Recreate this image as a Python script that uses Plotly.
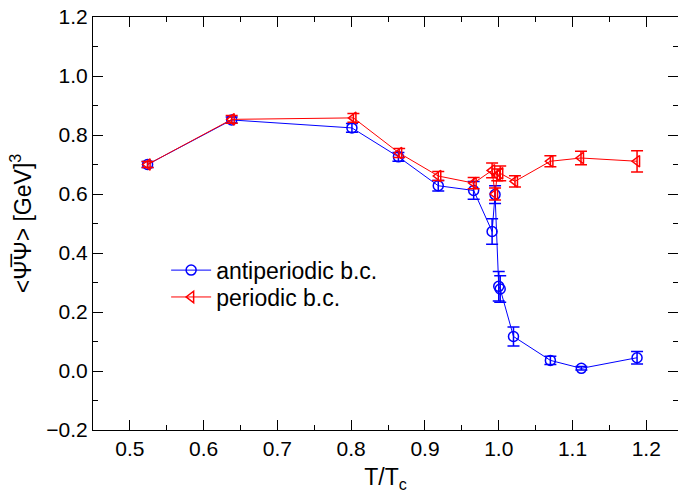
import plotly.graph_objects as go

# antiperiodic b.c.
anti_x = [0.524, 0.638, 0.801, 0.864, 0.918, 0.966, 0.991, 0.995, 1.000, 1.002, 1.020, 1.070, 1.112, 1.1875]
anti_y = [0.700, 0.851, 0.824, 0.726, 0.628, 0.612, 0.473, 0.598, 0.287, 0.278, 0.117, 0.036, 0.009, 0.045]
anti_e = [0.010, 0.010, 0.015, 0.015, 0.018, 0.030, 0.043, 0.030, 0.050, 0.045, 0.032, 0.014, 0.006, 0.021]

# periodic b.c.
per_x = [0.524, 0.638, 0.803, 0.865, 0.918, 0.966, 0.991, 0.995, 0.998, 1.002, 1.022, 1.070, 1.1115, 1.1875]
per_y = [0.700, 0.853, 0.858, 0.739, 0.661, 0.637, 0.680, 0.600, 0.665, 0.670, 0.643, 0.711, 0.722, 0.711]
per_e = [0.010, 0.013, 0.015, 0.015, 0.015, 0.019, 0.025, 0.020, 0.020, 0.025, 0.019, 0.019, 0.023, 0.036]

FONT = "Liberation Sans, Arial, sans-serif"
BLUE = "#0000ff"
RED = "#ff0000"

fig = go.Figure()
fig.add_trace(go.Scatter(
    x=anti_x, y=anti_y, mode="lines+markers", name="antiperiodic b.c.",
    line=dict(color=BLUE, width=1), legend="legend",
    marker=dict(symbol="circle-open", size=10, color=BLUE, line=dict(width=1.5, color=BLUE)),
    error_y=dict(type="data", array=anti_e, visible=True, color=BLUE, thickness=1.5, width=6),
))
fig.add_trace(go.Scatter(
    x=per_x, y=per_y, mode="lines+markers", name="periodic b.c.",
    line=dict(color=RED, width=1), legend="legend2",
    marker=dict(symbol="triangle-left-open", size=10, color=RED, line=dict(width=1.5, color=RED)),
    error_y=dict(type="data", array=per_e, visible=True, color=RED, thickness=1.5, width=6),
))

leg_common = dict(xanchor="left", yanchor="middle", bgcolor="rgba(0,0,0,0)",
                  font=dict(size=23, family=FONT), itemwidth=40)

fig.update_layout(
    width=678, height=493,
    margin=dict(l=93, r=0, t=17, b=63),
    paper_bgcolor="white", plot_bgcolor="white",
    font=dict(family=FONT, size=21, color="black"),
    showlegend=True,
    legend=dict(x=0.125, y=0.387, **leg_common),
    legend2=dict(x=0.125, y=0.322, **leg_common),
    xaxis=dict(
        range=[0.45, 1.243], showgrid=False, zeroline=False,
        showline=True, linecolor="black", linewidth=1, mirror="ticks",
        ticks="inside", ticklen=10, tickcolor="black", tickwidth=1,
        dtick=0.1, tick0=0.5, tickformat=".1f",
        minor=dict(ticks="inside", ticklen=5, dtick=0.05, tick0=0.45, tickcolor="black", showgrid=False),
        title=dict(text="T/T<sub>c</sub>", font=dict(size=23, family=FONT), standoff=12),
    ),
    yaxis=dict(
        range=[-0.2, 1.2], showgrid=False, zeroline=False,
        showline=True, linecolor="black", linewidth=1, mirror="ticks",
        ticks="inside", ticklen=10, tickcolor="black", tickwidth=1,
        dtick=0.2, tick0=0.0, tickformat=".1f",
        minor=dict(ticks="inside", ticklen=5, dtick=0.1, tickcolor="black", showgrid=False),
        title=dict(text="&lt;\u03a8\u0305\u03a8&gt; [GeV]<sup>3</sup>", font=dict(size=23, family=FONT), standoff=8),
    ),
)

fig.write_html("out.html")
